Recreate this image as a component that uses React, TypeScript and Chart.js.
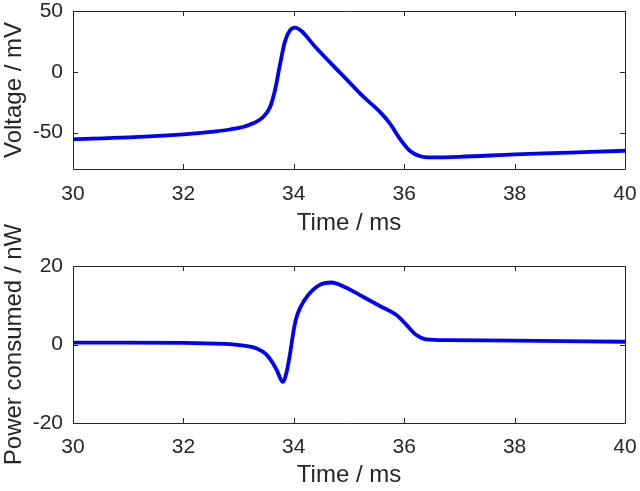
import React, { useEffect, useRef } from 'react';
import { Chart, registerables } from 'chart.js';

Chart.register(...registerables);

// ---------- data ----------
const timeVoltage = [30, 31, 32, 32.5, 32.84, 33.2, 33.45, 33.57, 33.66, 33.75, 33.84, 33.93, 34.02, 34.14, 34.35, 34.66, 34.96, 35.25, 35.56, 35.74, 35.92, 36.1, 36.29, 36.5, 37, 38, 39, 40];
const voltage = [-55.5, -54, -51.5, -49.5, -47.5, -43.5, -37, -29, -15, 6, 25, 34, 36.3, 33.5, 22.5, 7.5, -6.5, -20, -33, -42.5, -55, -65, -69.5, -70.5, -70, -68, -66.5, -65];

const timePower = [30, 31, 32, 32.85, 33.1, 33.33, 33.5, 33.6, 33.69, 33.8, 33.87, 33.93, 33.99, 34.04, 34.11, 34.26, 34.47, 34.68, 34.93, 35.26, 35.56, 35.86, 36.04, 36.22, 36.4, 36.8, 38, 40];
const power = [0.5, 0.5, 0.4, 0.1, -0.3, -1, -2.5, -4.3, -6.5, -9.5, -7, -2.5, 3, 6.5, 9.2, 12.6, 15.2, 15.8, 14.6, 12.1, 9.8, 7.5, 5, 2.4, 1.3, 1.1, 1.0, 0.7];

const timeTicks = [30, 32, 34, 36, 38, 40];
const voltageTicks = [-50, 0, 50];
const powerTicks = [-20, 0, 20];
const timeRange = [30, 40];
const voltageRange = [-80, 50];
const powerRange = [-20, 20];

const xTitle = 'Time / ms';
const voltageTitle = 'Voltage / mV';
const powerTitle = 'Power consumed / nW';

// ---------- styles ----------
const LINE_COLOR = '#0000ff';
const AXIS_COLOR = '#262626';
const TEXT_COLOR = '#262626';
const FONT = "'Liberation Sans', Arial, Helvetica, sans-serif";

const boxPlugin = {
  id: 'matlabBox',
  beforeDatasetsDraw(chart: any) {
    const { ctx, chartArea } = chart;
    const { left, right, top, bottom } = chartArea;
    const tl = 5;
    ctx.save();
    ctx.strokeStyle = AXIS_COLOR;
    ctx.lineWidth = 1;
    ctx.beginPath();
    ctx.rect(Math.round(left) + 0.5, Math.round(top) + 0.5, Math.round(right - left), Math.round(bottom - top));
    const xs = chart.scales.x;
    xs.ticks.forEach((t: any) => {
      const px = Math.round(xs.getPixelForValue(t.value)) + 0.5;
      ctx.moveTo(px, bottom);
      ctx.lineTo(px, bottom - tl);
      ctx.moveTo(px, top);
      ctx.lineTo(px, top + tl);
    });
    const ys = chart.scales.y;
    ys.ticks.forEach((t: any) => {
      const py = Math.round(ys.getPixelForValue(t.value)) + 0.5;
      ctx.moveTo(left, py);
      ctx.lineTo(left + tl, py);
      ctx.moveTo(right, py);
      ctx.lineTo(right - tl, py);
    });
    ctx.stroke();
    ctx.restore();
  },
};

function makeConfig(opts: {
  xs: number[];
  ys: number[];
  yTicks: number[];
  yRange: number[];
  yTitle: string;
  padTop: number;
  xHeight: number;
  tickPad: number;
  titlePadBottom: number;
}): any {
  return {
    type: 'line',
    data: {
      datasets: [
        {
          data: opts.xs.map((x, i) => ({ x, y: opts.ys[i] })),
          borderColor: LINE_COLOR,
          borderWidth: 3.8,
          pointRadius: 0,
          fill: false,
          cubicInterpolationMode: 'monotone',
        },
      ],
    },
    options: {
      responsive: false,
      animation: false,
      events: [],
      layout: { padding: { top: opts.padTop, right: 15, left: 0, bottom: 0 } },
      plugins: { legend: { display: false }, tooltip: { enabled: false } },
      scales: {
        x: {
          type: 'linear',
          min: timeRange[0],
          max: timeRange[1],
          afterBuildTicks: (s: any) => {
            s.ticks = timeTicks.map((v) => ({ value: v }));
          },
          afterFit: (s: any) => {
            s.height = opts.xHeight;
            s.paddingLeft = 0;
            s.paddingRight = 0;
          },
          grid: { display: false, drawTicks: false },
          border: { display: false },
          ticks: {
            padding: opts.tickPad,
            maxRotation: 0,
            autoSkip: false,
            color: TEXT_COLOR,
            font: { family: FONT, size: 21 },
            callback: (v: any) => String(v),
          },
          title: {
            display: true,
            text: xTitle,
            color: TEXT_COLOR,
            font: { family: FONT, size: 24 },
            padding: { top: 0, bottom: opts.titlePadBottom },
          },
        },
        y: {
          type: 'linear',
          min: opts.yRange[0],
          max: opts.yRange[1],
          afterBuildTicks: (s: any) => {
            s.ticks = opts.yTicks.map((v) => ({ value: v }));
          },
          afterFit: (s: any) => {
            s.width = 73;
            s.paddingTop = 0;
            s.paddingBottom = 0;
          },
          grid: { display: false, drawTicks: false },
          border: { display: false },
          ticks: {
            padding: 10,
            autoSkip: false,
            color: TEXT_COLOR,
            font: { family: FONT, size: 21 },
            callback: (v: any) => String(v),
          },
          title: {
            display: true,
            text: opts.yTitle,
            color: TEXT_COLOR,
            font: { family: FONT, size: 24 },
            padding: { top: 0, bottom: 0 },
          },
        },
      },
    },
    plugins: [boxPlugin],
  };
}

export default function App() {
  const topRef = useRef<HTMLCanvasElement | null>(null);
  const bottomRef = useRef<HTMLCanvasElement | null>(null);

  useEffect(() => {
    const c1 = new Chart(
      topRef.current as HTMLCanvasElement,
      makeConfig({
        xs: timeVoltage,
        ys: voltage,
        yTicks: voltageTicks,
        yRange: voltageRange,
        yTitle: voltageTitle,
        padTop: 11,
        xHeight: 76,
        tickPad: 13,
        titlePadBottom: 7,
      })
    );
    const c2 = new Chart(
      bottomRef.current as HTMLCanvasElement,
      makeConfig({
        xs: timePower,
        ys: power,
        yTicks: powerTicks,
        yRange: powerRange,
        yTitle: powerTitle,
        padTop: 51,
        xHeight: 68,
        tickPad: 12,
        titlePadBottom: 1,
      })
    );
    return () => {
      c1.destroy();
      c2.destroy();
    };
  }, []);

  return (
    <div style={{ position: 'fixed', left: 0, top: 0, width: 640, height: 491, background: '#ffffff', overflow: 'hidden' }}>
      <canvas ref={topRef} width={640} height={245} style={{ position: 'absolute', left: 0, top: 0, display: 'block' }} />
      <canvas ref={bottomRef} width={640} height={276} style={{ position: 'absolute', left: 0, top: 215, display: 'block' }} />
    </div>
  );
}
